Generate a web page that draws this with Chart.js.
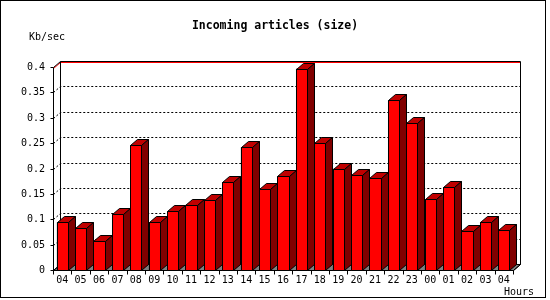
<!DOCTYPE html>
<html>
<head>
<meta charset="utf-8">
<script src="https://cdn.jsdelivr.net/npm/chart.js@4/dist/chart.umd.min.js"></script>
<style>
  html, body { margin: 0; padding: 0; background: #fff; }
  canvas { display: block; }
</style>
</head>
<body>
<canvas id="chart" width="550" height="300"></canvas>
<script>
// data
const hours = ['04', '05', '06', '07', '08', '09', '10', '11', '12', '13', '14', '15', '16',
  '17', '18', '19', '20', '21', '22', '23', '00', '01', '02', '03', '04'];
const kbPerSec = [0.094, 0.082, 0.057, 0.110, 0.246, 0.094, 0.116, 0.129, 0.137, 0.173, 0.242, 0.159, 0.185,
  0.397, 0.250, 0.200, 0.187, 0.181, 0.334, 0.289, 0.139, 0.163, 0.077, 0.095, 0.078];
const yTicks = [0, 0.05, 0.1, 0.15, 0.2, 0.25, 0.3, 0.35, 0.4];
const yTickLabels = ['0', '0.05', '0.1', '0.15', '0.2', '0.25', '0.3', '0.35', '0.4'];

const DX = 7, DY = -6;  // depth of the 3d box
const FONT = '10px "DejaVu Sans Mono"';

function line(ctx, pts) {
  ctx.beginPath();
  ctx.moveTo(pts[0][0], pts[0][1]);
  for (let i = 1; i < pts.length; i++) ctx.lineTo(pts[i][0], pts[i][1]);
  ctx.stroke();
}

function poly(ctx, pts, fill) {
  ctx.beginPath();
  ctx.moveTo(pts[0][0], pts[0][1]);
  for (let i = 1; i < pts.length; i++) ctx.lineTo(pts[i][0], pts[i][1]);
  ctx.closePath();
  ctx.fillStyle = fill;
  ctx.fill();
  ctx.stroke();
}

// frame, back wall, grid, floor and axes
const box3d = {
  id: 'box3d',
  beforeDatasetsDraw(chart) {
    const ctx = chart.ctx;
    const { left, right, top, bottom } = chart.chartArea;
    const ys = chart.scales.y, xs = chart.scales.x;
    const L = left + 0.5, R = right + 0.5, T = top + 0.5, B = bottom + 0.5;
    ctx.save();
    ctx.lineWidth = 1;
    ctx.strokeStyle = '#000';

    // outer frame
    ctx.strokeRect(0.5, 0.5, 545, 297);

    // floor
    poly(ctx, [[L, B], [L + DX, B + DY], [R + DX, B + DY], [R, B]], '#808080');

    // dotted grid on back wall
    ctx.setLineDash([2, 2]);
    yTicks.forEach(v => {
      if (v === 0 || v === 0.4) return;
      const py = Math.round(ys.getPixelForValue(v)) + 0.5;
      line(ctx, [[L, py], [L + DX, py + DY], [R + DX, py + DY]]);
    });
    ctx.setLineDash([]);

    // red top line
    ctx.strokeStyle = '#ff0000';
    line(ctx, [[L, T + 1], [L + DX, T + DY + 1], [R + DX, T + DY + 1]]);
    ctx.strokeStyle = '#000';

    // back wall edges
    line(ctx, [[L + DX, B + DY], [L + DX, T + DY], [R + DX, T + DY], [R + DX, B + DY]]);

    // front axes
    line(ctx, [[L, T], [L + DX, T + DY]]);
    line(ctx, [[L, T], [L, B], [R, B], [R + DX, B + DY]]);
    line(ctx, [[L, B], [L + DX, B + DY]]);

    // y ticks + labels
    ctx.font = FONT;
    ctx.fillStyle = '#000';
    ctx.textAlign = 'right';
    ctx.textBaseline = 'middle';
    yTicks.forEach((v, i) => {
      const py = Math.round(ys.getPixelForValue(v)) + 0.5;
      line(ctx, [[L - 3, py], [L, py]]);
      ctx.fillText(yTickLabels[i], left - 8, py);
    });

    // x ticks + labels
    ctx.textAlign = 'center';
    const step = (right - left) / hours.length;
    for (let i = 0; i <= hours.length; i++) {
      const px = Math.round(left + i * step) + 0.5;
      line(ctx, [[px, B], [px, B + 4]]);
    }
    hours.forEach((h, i) => {
      ctx.fillText(h, xs.getPixelForValue(i), bottom + 10);
    });

    // titles
    ctx.textAlign = 'left';
    ctx.fillText('Kb/sec', 29, 37);
    ctx.fillText('Hours', 504, 292);
    ctx.font = 'bold 11.5px "DejaVu Sans Mono"';
    ctx.textAlign = 'center';
    ctx.fillText('Incoming articles (size)', 275, 26);
    ctx.restore();
  },
  afterDatasetsDraw(chart) {
    const ctx = chart.ctx;
    ctx.save();
    ctx.lineWidth = 1;
    ctx.strokeStyle = '#000';
    chart.getDatasetMeta(0).data.forEach(bar => {
      const xl = Math.round(bar.x - bar.width / 2) + 0.5;
      const xr = Math.round(bar.x + bar.width / 2) + 0.5;
      const yt = Math.round(bar.y) + 0.5;
      const yb = Math.round(bar.base) + 0.5;
      poly(ctx, [[xl, yt], [xr, yt], [xr, yb], [xl, yb]], '#ff0000');
      poly(ctx, [[xl, yt], [xl + DX, yt + DY], [xr + DX, yt + DY], [xr, yt]], '#c00000');
      poly(ctx, [[xr, yt], [xr + DX, yt + DY], [xr + DX, yb + DY], [xr, yb]], '#800000');
    });
    ctx.restore();
  }
};

new Chart(document.getElementById('chart'), {
  type: 'bar',
  data: {
    labels: hours,
    datasets: [{
      label: 'Kb/sec',
      data: kbPerSec,
      backgroundColor: '#ff0000',
      borderColor: '#000',
      borderWidth: 1,
      categoryPercentage: 1,
      barPercentage: 0.6
    }]
  },
  options: {
    responsive: false,
    animation: false,
    devicePixelRatio: 1,
    layout: { padding: { left: 53, right: 37, top: 67, bottom: 30 } },
    plugins: { legend: { display: false }, title: { display: false }, tooltip: { enabled: false } },
    scales: {
      x: { display: false, offset: true },
      y: { display: false, min: 0, max: 0.4 }
    }
  },
  plugins: [box3d]
});
</script>
</body>
</html>
